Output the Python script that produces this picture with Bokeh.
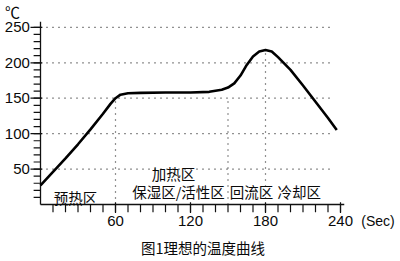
from bokeh.plotting import figure
from bokeh.models import Range1d
from bokeh.embed import file_html
from bokeh.resources import INLINE
from bokeh.core.properties import value

# ---- data ----
time_s = [0, 10, 20, 30, 40, 50, 56, 60, 64, 70, 80, 100, 120, 135, 145, 150, 155,
          160, 165, 170, 175, 180, 185, 190, 200, 210, 220, 230, 237]
temp_c = [27, 46, 65, 85, 106, 128, 142, 150, 155, 157, 157.5, 158, 158, 159, 162, 165, 171,
          182, 197, 209, 216, 218, 216, 208, 190, 168, 145, 122, 105]
x_major = [60, 120, 180, 240]
x_major_labels = ["60", "120", "180", "240"]
y_major = [50, 100, 150, 200, 250]
y_major_labels = ["50", "100", "150", "200", "250"]
x_minor = list(range(10, 250, 10))
y_minor = list(range(10, 260, 10))
zone_marks = [60, 150, 180]          # vertical dotted lines
zone_mark_tops = [150, 150, 218]
zone_names = ["预热区", "加热区", "保湿区/活性区", "回流区", "冷却区"]
title_text = "图1理想的温度曲线"

# ---- figure: frame fills the whole canvas ----
W, H = 400, 261
p = figure(width=W, height=H, output_backend="svg", toolbar_location=None,
           x_range=Range1d(-32, 288), y_range=Range1d(-80.45, 287.9),
           min_border=0, min_border_left=0, min_border_right=0,
           min_border_top=0, min_border_bottom=0)
p.axis.visible = False
p.grid.visible = False
p.outline_line_color = None
p.background_fill_color = "white"
p.border_fill_color = "white"

GRID = "#222222"
# horizontal dotted grid
p.segment(x0=[0] * len(y_major), y0=y_major, x1=[234] * len(y_major), y1=y_major,
          line_color=GRID, line_width=1.2, line_dash="1 5")
# vertical dotted lines
p.segment(x0=zone_marks, y0=[0] * 3, x1=zone_marks, y1=zone_mark_tops,
          line_color=GRID, line_width=1.2, line_dash="1 5")

# axes lines
AX = "#111111"
p.segment(x0=[0, 0], y0=[0, 0], x1=[243, 0], y1=[0, 258], line_color=AX, line_width=1.3)
# x ticks (below axis)
p.segment(x0=x_minor, y0=[0] * len(x_minor), x1=x_minor, y1=[-11] * len(x_minor),
          line_color=AX, line_width=1.2)
p.segment(x0=x_major, y0=[3] * len(x_major), x1=x_major, y1=[-12] * len(x_major),
          line_color=AX, line_width=1.2)
# y ticks (left of axis)
p.segment(x0=[-5.5] * len(y_minor), y0=y_minor, x1=[0] * len(y_minor), y1=y_minor,
          line_color=AX, line_width=1.2)
p.segment(x0=[-8] * len(y_major), y0=y_major, x1=[1.5] * len(y_major), y1=y_major,
          line_color=AX, line_width=1.2)

# curve
p.line(time_s, temp_c, line_color="black", line_width=2.6, line_join="round")

NUMF = value("Liberation Sans")
CJK = value("Noto Sans CJK SC")
TXT = "#0a0a0a"
# y tick labels
p.text(x=[-8.5] * len(y_major), y=y_major, text=y_major_labels, text_font=NUMF,
       text_font_size="15px", text_align="right", text_baseline="middle", text_color=TXT)
# x tick labels
p.text(x=x_major, y=[-23.6] * len(x_major), text=x_major_labels, text_font=NUMF,
       text_font_size="15px", text_align="center", text_baseline="middle", text_color=TXT)
p.text(x=[270], y=[-23.6], text=["(Sec)"], text_font=NUMF,
       text_font_size="14px", text_align="center", text_baseline="middle", text_color=TXT)
# unit
p.text(x=[-22.4], y=[273], text=["℃"], text_font=CJK, text_font_size="15px",
       text_align="center", text_baseline="middle", text_color=TXT)

# zone labels
zx = [28, 106.4, 110.4, 168.8, 207]
zy = [10.3, 43.8, 18.3, 18.3, 18.3]
p.text(x=zx, y=zy, text=zone_names, text_font=CJK, text_font_size="14.5px",
       text_align="center", text_baseline="middle", text_color=TXT)

# caption
p.text(x=[130], y=[-60.3], text=[title_text], text_font=CJK, text_font_size="14.5px",
       text_align="center", text_baseline="middle", text_color=TXT)

open("out.html", "w").write(file_html(p, INLINE))
